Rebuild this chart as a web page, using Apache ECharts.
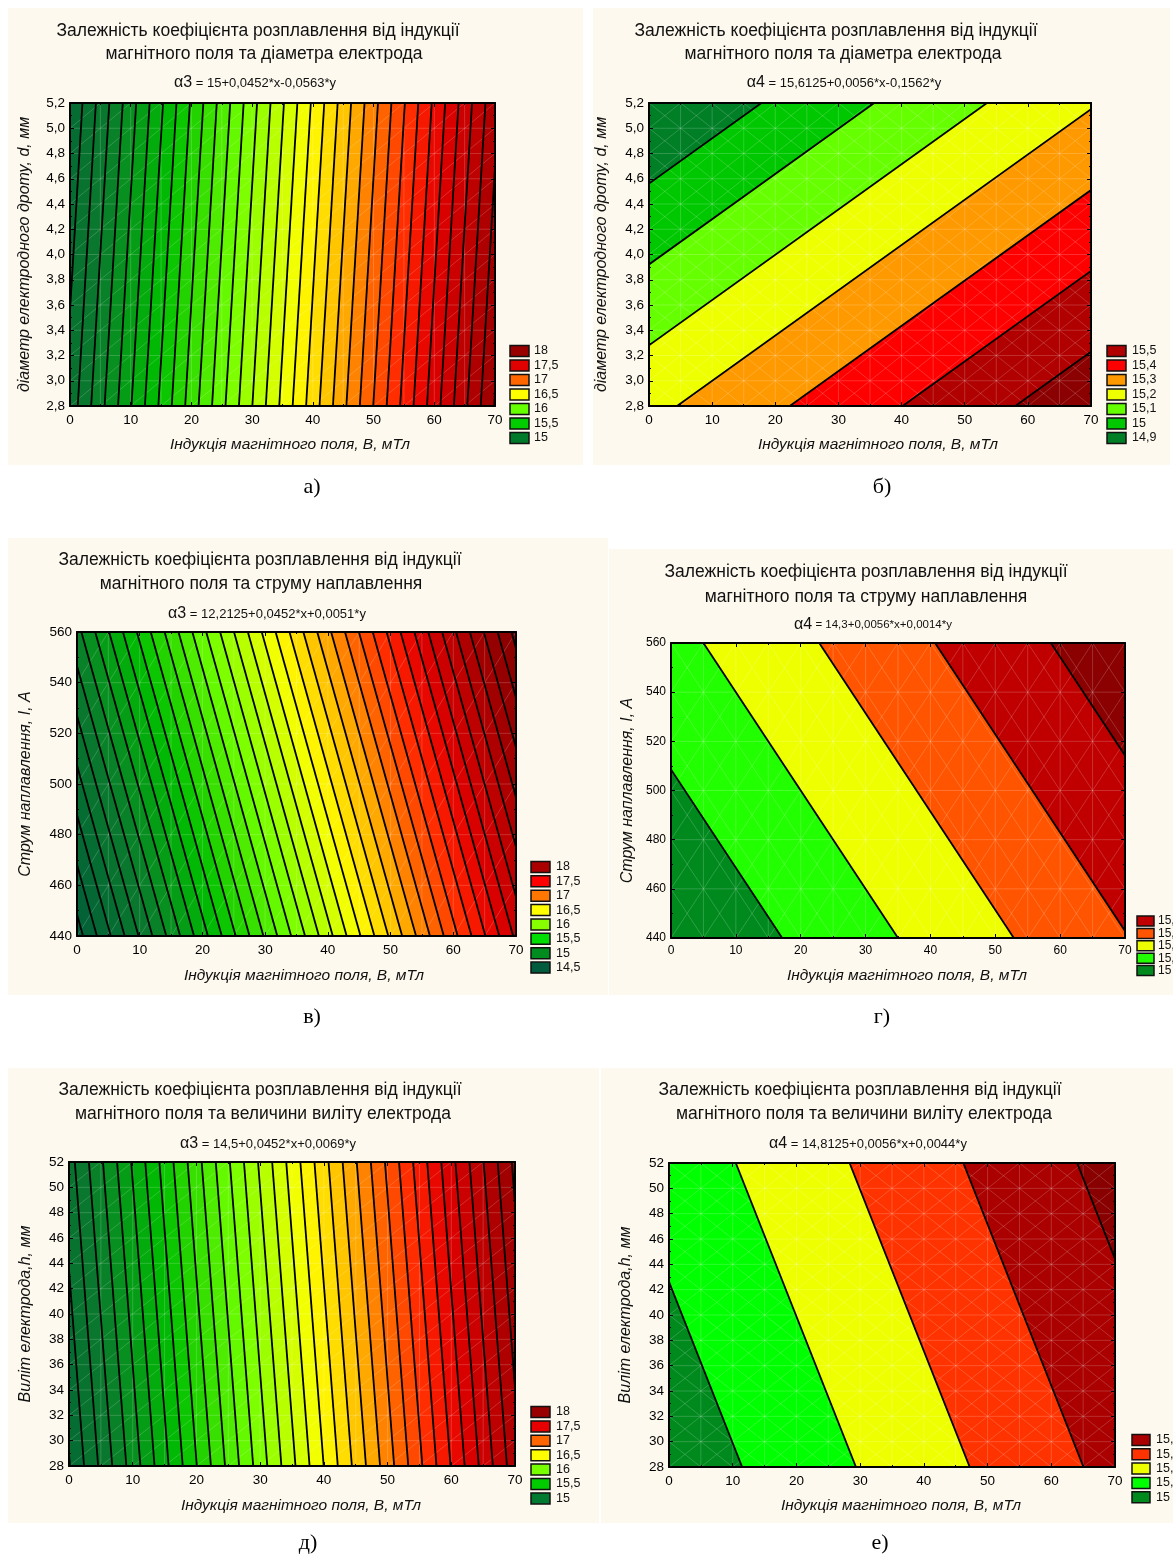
<!DOCTYPE html>
<html><head><meta charset="utf-8">
<script src="https://cdn.jsdelivr.net/npm/echarts@6/dist/echarts.min.js"></script>
<style>html,body{margin:0;padding:0;background:#fff;}#c{width:1173px;height:1555px;}</style>
</head><body><div id="c"></div>
<script>
// ---------- data ----------
const xRange = [0, 70, 10];
const xLabels = ['0','10','20','30','40','50','60','70'];
const yRangeD = [2.8, 5.2, 0.2];
const yLabelsD = ['2,8','3,0','3,2','3,4','3,6','3,8','4,0','4,2','4,4','4,6','4,8','5,0','5,2'];
const yRangeI = [440, 560, 20];
const yLabelsI = ['440','460','480','500','520','540','560'];
const yRangeH = [28, 52, 2];
const yLabelsH = ['28','30','32','34','36','38','40','42','44','46','48','50','52'];

const titleD = ['Залежність коефіцієнта розплавлення від індукції', 'магнітного поля та діаметра електрода'];
const titleI = ['Залежність коефіцієнта розплавлення від індукції', 'магнітного поля та струму наплавлення'];
const titleH = ['Залежність коефіцієнта розплавлення від індукції', 'магнітного поля та величини виліту електрода'];
const xName = 'Індукція магнітного поля, B, мТл';
const yNameD = 'діаметр електродного дроту, d, мм';
const yNameI = 'Струм наплавлення, I, A';
const yNameH = 'Виліт електрода,h, мм';

// surfaces z = c0 + c1*x + c2*y
const coefA = [15, 0.0452, -0.0563];
const coefB = [15.6125, 0.0056, -0.1562];
const coefV = [12.2125, 0.0452, 0.0051];
const coefG = [14.288, 0.0056, 0.0014];
const coefD = [14.5, 0.0452, 0.0069];
const coefE = [14.8125, 0.0056, 0.0044];
const formulaA = ['α3', ' = 15+0,0452*x-0,0563*y'];
const formulaB = ['α4', ' = 15,6125+0,0056*x-0,1562*y'];
const formulaV = ['α3', ' = 12,2125+0,0452*x+0,0051*y'];
const formulaG = ['α4', ' = 14,3+0,0056*x+0,0014*y'];
const formulaD = ['α3', ' = 14,5+0,0452*x+0,0069*y'];
const formulaE = ['α4', ' = 14,8125+0,0056*x+0,0044*y'];

const levelsDense = [14.5,14.6,14.7,14.8,14.9,15.0,15.1,15.2,15.3,15.4,15.5,15.6,15.7,15.8,15.9,16.0,16.1,16.2,16.3,16.4,16.5,16.6,16.7,16.8,16.9,17.0,17.1,17.2,17.3,17.4,17.5,17.6,17.7,17.8,17.9,18.0,18.1,18.2];
const denseStops = [[14.4,'#005a3a'],[15.0,'#0a7a2c'],[15.5,'#00c000'],[16.0,'#70ff00'],[16.5,'#ffff00'],[16.8,'#ffbb00'],[17.0,'#ff7000'],[17.3,'#ff2000'],[17.5,'#e00000'],[18.0,'#990000'],[18.3,'#800000']];
const levelsB = [14.9, 15.0, 15.1, 15.2, 15.3, 15.4, 15.5];
const bandColorsB = ['#007f26','#00c800','#66ff00','#eeff00','#ff9900','#ff0000','#b00000','#8b0000'];
const levelsG = [15.0, 15.1, 15.2, 15.3, 15.4];
const bandColorsG = ['#008a1e','#22ff00','#eeff00','#ff5500','#c00000','#8b0000'];
const levelsE = [15.0, 15.1, 15.2, 15.3, 15.4];
const bandColorsE = ['#008a1e','#00ff00','#eeff00','#ff3300','#aa0000','#880000'];

const legLabelsA = ['18','17,5','17','16,5','16','15,5','15'];
const legColorsA = ['#990000','#e00000','#ff6600','#ffff00','#66ff00','#00cc00','#007a2a'];
const legLabelsB = ['15,5','15,4','15,3','15,2','15,1','15','14,9'];
const legColorsB = ['#b00000','#ff0000','#ff9900','#eeff00','#66ff00','#00c800','#007f26'];
const legLabelsV = ['18','17,5','17','16,5','16','15,5','15','14,5'];
const legColorsV = ['#aa0000','#ff0000','#ff7700','#ffff00','#88ff00','#00dd00','#008c1e','#005c3c'];
const legLabelsG = ['15,4','15,3','15,2','15,1','15'];
const legColorsG = ['#c00000','#ff5500','#eeff00','#22ff00','#008a1e'];
const legLabelsD = ['18','17,5','17','16,5','16','15,5','15'];
const legColorsD = ['#990000','#e80000','#ff6600','#ffff00','#77ff00','#00cc00','#007a30'];
const legLabelsE = ['15,4','15,3','15,2','15,1','15'];
const legColorsE = ['#aa0000','#ff3300','#eeff00','#00ff00','#008a1e'];
const captions = ['а)','б)','в)','г)','д)','е)'];

// ---------- layout ----------
const FONT = "'Liberation Sans', Arial, Helvetica, sans-serif";
const SERIF = "'Liberation Serif', 'Times New Roman', serif";
const panels = [
 {box:[8,8,575,457], grid:[70,103,425,303], coef:coefA, levels:levelsDense, dense:true, yr:yRangeD, yl:yLabelsD,
  title:titleD, tx:[258,264], ty:[31,54], formula:formulaA, fx:255, fy:83, fs:13, tickFs:13.5, diag:[1],
  yName:yNameD, xnX:290, xnY:445, ynX:25, leg:{lab:legLabelsA, col:legColorsA, x:510, y0:351, dy:14.5, w:19, h:11, tx:534, fs:12.5}, cap:[312,487]},
 {box:[593,8,577,457], grid:[649,103,442,303], coef:coefB, levels:levelsB, colors:bandColorsB, yr:yRangeD, yl:yLabelsD,
  title:titleD, tx:[836,843], ty:[31,54], formula:formulaB, fx:844, fy:83, fs:13, tickFs:13.5, diag:[1,-1],
  yName:yNameD, xnX:878, xnY:445, ynX:602, leg:{lab:legLabelsB, col:legColorsB, x:1107, y0:351, dy:14.5, w:19, h:11, tx:1132, fs:12.5}, cap:[882,487]},
 {box:[8,538,600,457], grid:[77,632,439,304], coef:coefV, levels:levelsDense, dense:true, yr:yRangeI, yl:yLabelsI,
  title:titleI, tx:[260,261], ty:[560,584], formula:formulaV, fx:267, fy:614, fs:13, tickFs:13.5, diag:[1],
  yName:yNameI, xnX:304, xnY:976, ynX:26, leg:{lab:legLabelsV, col:legColorsV, x:531, y0:867, dy:14.37, w:19, h:11, tx:556, fs:12.5}, cap:[312,1017]},
 {box:[609,549,564,446], grid:[671,643,454,295], coef:coefG, levels:levelsG, colors:bandColorsG, yr:yRangeI, yl:yLabelsI,
  title:titleI, tx:[866,866], ty:[572,597], formula:formulaG, fx:873, fy:625, fs:11.5, tickFs:12, diag:[1,-1],
  yName:yNameI, xnX:907, xnY:976, ynX:628, leg:{lab:legLabelsG, col:legColorsG, x:1137, y0:921, dy:12.4, w:17, h:10, tx:1158, fs:12}, cap:[882,1017]},
 {box:[8,1068,591,455], grid:[69,1162,446,304], coef:coefD, levels:levelsDense, dense:true, yr:yRangeH, yl:yLabelsH,
  title:titleH, tx:[260,263], ty:[1090,1114], formula:formulaD, fx:268, fy:1144, fs:13, tickFs:13.5, diag:[1],
  yName:yNameH, xnX:301, xnY:1506, ynX:26, leg:{lab:legLabelsD, col:legColorsD, x:531, y0:1412, dy:14.4, w:19, h:11, tx:556, fs:12.5}, cap:[308,1543]},
 {box:[601,1068,572,455], grid:[669,1163,446,304], coef:coefE, levels:levelsE, colors:bandColorsE, yr:yRangeH, yl:yLabelsH,
  title:titleH, tx:[860,864], ty:[1090,1114], formula:formulaE, fx:868, fy:1144, fs:13, tickFs:13.5, diag:[1,-1],
  yName:yNameH, xnX:901, xnY:1506, ynX:626, leg:{lab:legLabelsE, col:legColorsE, x:1132, y0:1440, dy:14.3, w:18, h:11, tx:1156, fs:12.5}, cap:[880,1543]}
];

// ---------- helpers ----------
function fz(c, q){ return c[0] + c[1]*q[0] + c[2]*q[1]; }
function rectPoly(p){ return [[xRange[0],p.yr[0]],[xRange[1],p.yr[0]],[xRange[1],p.yr[1]],[xRange[0],p.yr[1]]]; }
function clipPoly(poly, g){
  const out=[]; const n=poly.length;
  for(let i=0;i<n;i++){ const P=poly[i], Q=poly[(i+1)%n]; const gp=g(P), gq=g(Q);
    if(gp>=0) out.push(P);
    if((gp>=0)!==(gq>=0)){ const t=gp/(gp-gq); out.push([P[0]+t*(Q[0]-P[0]), P[1]+t*(Q[1]-P[1])]); } }
  return out;
}
function levelSeg(p, L){
  const r=rectPoly(p); const pts=[];
  for(let i=0;i<4;i++){ const P=r[i], Q=r[(i+1)%4]; const gp=fz(p.coef,P)-L, gq=fz(p.coef,Q)-L;
    if(gp===0) pts.push(P); else if(gp*gq<0){ const t=gp/(gp-gq); pts.push([P[0]+t*(Q[0]-P[0]), P[1]+t*(Q[1]-P[1])]); } }
  return pts;
}
function hex2rgb(h){ return [parseInt(h.slice(1,3),16), parseInt(h.slice(3,5),16), parseInt(h.slice(5,7),16)]; }
function cmap(z){
  const s=denseStops; if(z<=s[0][0]) return s[0][1];
  for(let i=1;i<s.length;i++){ if(z<=s[i][0]){ const t=(z-s[i-1][0])/(s[i][0]-s[i-1][0]); const a=hex2rgb(s[i-1][1]), b=hex2rgb(s[i][1]);
    return 'rgb('+a.map((v,j)=>Math.round(v+t*(b[j]-v))).join(',')+')'; } }
  return s[s.length-1][1];
}
function lb(ax,ay,bx,by,xmin,ymin,xmax,ymax){
  let t0=0,t1=1; const dx=bx-ax, dy=by-ay;
  const pp=[-dx,dx,-dy,dy], qq=[ax-xmin,xmax-ax,ay-ymin,ymax-ay];
  for(let k=0;k<4;k++){ if(pp[k]===0){ if(qq[k]<0) return null; } else { const r=qq[k]/pp[k];
    if(pp[k]<0){ if(r>t1) return null; if(r>t0) t0=r; } else { if(r<t0) return null; if(r<t1) t1=r; } } }
  if(t1-t0<1e-6) return null;
  return {x1:ax+t0*dx, y1:ay+t0*dy, x2:ax+t1*dx, y2:ay+t1*dy};
}

// ---------- option ----------
const grid=[], xAxis=[], yAxis=[], series=[], graphic=[];
panels.forEach((p,i)=>{
  graphic.push({type:'rect', z:-10, shape:{x:p.box[0], y:p.box[1], width:p.box[2], height:p.box[3]}, style:{fill:'#fdf9ee'}});
  grid.push({left:p.grid[0], top:p.grid[1], width:p.grid[2], height:p.grid[3], show:false});
  const lab = (labels, r)=>(v)=>labels[Math.round((v-r[0])/r[2])];
  ['bottom','top'].forEach((pos,k)=>xAxis.push({type:'value', gridIndex:i, position:pos, min:xRange[0], max:xRange[1], interval:xRange[2], z:6,
    axisLine:{show:true, onZero:false, lineStyle:{color:'#000', width:2}},
    axisTick:{show:true, inside:true, length:4, lineStyle:{color:'#000', width:1}},
    minorTick:{show:true, splitNumber:2, length:2, lineStyle:{color:'#000'}},
    axisLabel:{show:k===0, margin:7, fontSize:p.tickFs, color:'#000', fontFamily:FONT, showMinLabel:true, showMaxLabel:true, formatter:lab(xLabels,xRange)},
    splitLine:{show:false}}));
  ['left','right'].forEach((pos,k)=>yAxis.push({type:'value', gridIndex:i, position:pos, min:p.yr[0], max:p.yr[1], interval:p.yr[2], z:6,
    axisLine:{show:true, onZero:false, lineStyle:{color:'#000', width:2}},
    axisTick:{show:true, inside:true, length:4, lineStyle:{color:'#000', width:1}},
    minorTick:{show:true, splitNumber:2, length:2, lineStyle:{color:'#000'}},
    axisLabel:{show:k===0, margin:5, fontSize:p.tickFs, color:'#000', fontFamily:FONT, showMinLabel:true, showMaxLabel:true, formatter:lab(p.yl,p.yr)},
    splitLine:{show:false}}));
  const nb = p.levels.length + 1;
  const bandData=[]; for(let k=0;k<nb;k++) bandData.push([k]);
  const bandColor = (k)=>{
    if(!p.dense) return p.colors[k];
    const L=p.levels; const mid = k===0 ? L[0]-0.05 : (k===nb-1 ? L[L.length-1]+0.05 : (L[k-1]+L[k])/2);
    return cmap(mid);
  };
  series.push({type:'custom', xAxisIndex:2*i, yAxisIndex:2*i, data:bandData, silent:true, clip:true, z:2,
    renderItem:(params, api)=>{
      const k=api.value(0);
      let poly=rectPoly(p);
      if(k>0){ const lo=p.levels[k-1]; poly=clipPoly(poly, q=>fz(p.coef,q)-lo); }
      if(k<nb-1){ const hi=p.levels[k]; poly=clipPoly(poly, q=>hi-fz(p.coef,q)); }
      if(poly.length<3) return {type:'group', children:[]};
      const c=bandColor(k);
      return {type:'polygon', shape:{points:poly.map(q=>api.coord(q))}, style:{fill:c, stroke:c, lineWidth:0.6}};
    }});
  // mesh texture
  series.push({type:'custom', xAxisIndex:2*i, yAxisIndex:2*i, data:[[0,0]], silent:true, clip:true, z:3,
    renderItem:(params, api)=>{
      const pa=api.coord([xRange[0],p.yr[0]]), pb=api.coord([xRange[1],p.yr[1]]);
      const x0=pa[0], y1=pa[1], x1=pb[0], y0=pb[1];
      const w=api.coord([xRange[0]+5,p.yr[0]])[0]-x0;
      const h=y1-api.coord([xRange[0],p.yr[0]+p.yr[2]])[1];
      const st={stroke:'rgba(255,255,255,0.18)', lineWidth:1};
      const ch=[];
      for(let x=x0+w;x<x1-1;x+=w) ch.push({type:'line', shape:{x1:x,y1:y0,x2:x,y2:y1}, style:st});
      for(let y=y1-h;y>y0+1;y-=h) ch.push({type:'line', shape:{x1:x0,y1:y,x2:x1,y2:y}, style:st});
      p.diag.forEach(d=>{
        for(let j=-40;j<=40;j++){ const sx=x0+j*w, sy=y1;
          const seg = d>0 ? lb(sx,sy,sx+80*w,sy-80*h,x0,y0,x1,y1) : lb(sx,sy,sx-80*w,sy-80*h,x0,y0,x1,y1);
          if(seg) ch.push({type:'line', shape:seg, style:st}); }
      });
      return {type:'group', children:ch};
    }});
  // contour lines
  const lineData = p.levels.map((L,k)=>[k]);
  series.push({type:'custom', xAxisIndex:2*i, yAxisIndex:2*i, data:lineData, silent:true, clip:true, z:4,
    renderItem:(params, api)=>{
      const L=p.levels[api.value(0)];
      const pts=levelSeg(p,L);
      if(pts.length<2) return {type:'group', children:[]};
      const a=api.coord(pts[0]), b=api.coord(pts[1]);
      return {type:'line', shape:{x1:a[0],y1:a[1],x2:b[0],y2:b[1]}, style:{stroke:'#000', lineWidth:1.8}};
    }});
  // texts
  p.title.forEach((t,k)=>graphic.push({type:'text', x:p.tx[k], y:p.ty[k], style:{text:t, font:'17.5px '+FONT, fill:'#111', align:'center', verticalAlign:'middle'}}));
  graphic.push({type:'text', x:p.fx, y:p.fy, style:{text:'{s|'+p.formula[0]+'}{n|'+p.formula[1]+'}', fill:'#111', align:'center', verticalAlign:'middle',
    rich:{s:{fontSize:16, fontFamily:FONT, fill:'#111'}, n:{fontSize:p.fs, fontFamily:FONT, fill:'#111'}}}});
  graphic.push({type:'text', x:p.xnX, y:p.xnY, style:{text:xName, font:'italic 15.5px '+FONT, fill:'#111', align:'center', verticalAlign:'middle'}});
  graphic.push({type:'text', x:p.ynX, y:p.grid[1]+p.grid[3]/2, rotation:Math.PI/2, style:{text:p.yName, font:'italic 16px '+FONT, fill:'#111', align:'center', verticalAlign:'middle'}});
  // legend
  p.leg.lab.forEach((t,k)=>{
    const cy=p.leg.y0+k*p.leg.dy;
    graphic.push({type:'rect', shape:{x:p.leg.x, y:cy-p.leg.h/2, width:p.leg.w, height:p.leg.h}, style:{fill:p.leg.col[k], stroke:'#111', lineWidth:1.5}});
    graphic.push({type:'text', x:p.leg.tx, y:cy, style:{text:t, font:p.leg.fs+'px '+FONT, fill:'#111', align:'left', verticalAlign:'middle'}});
  });
  graphic.push({type:'text', x:p.cap[0], y:p.cap[1], style:{text:captions[i], font:'22px '+SERIF, fill:'#000', align:'center', verticalAlign:'middle'}});
});

const chart = echarts.init(document.getElementById('c'), null, {renderer:'canvas'});
chart.setOption({animation:false, backgroundColor:'#ffffff', grid, xAxis, yAxis, series, graphic});
</script></body></html>
